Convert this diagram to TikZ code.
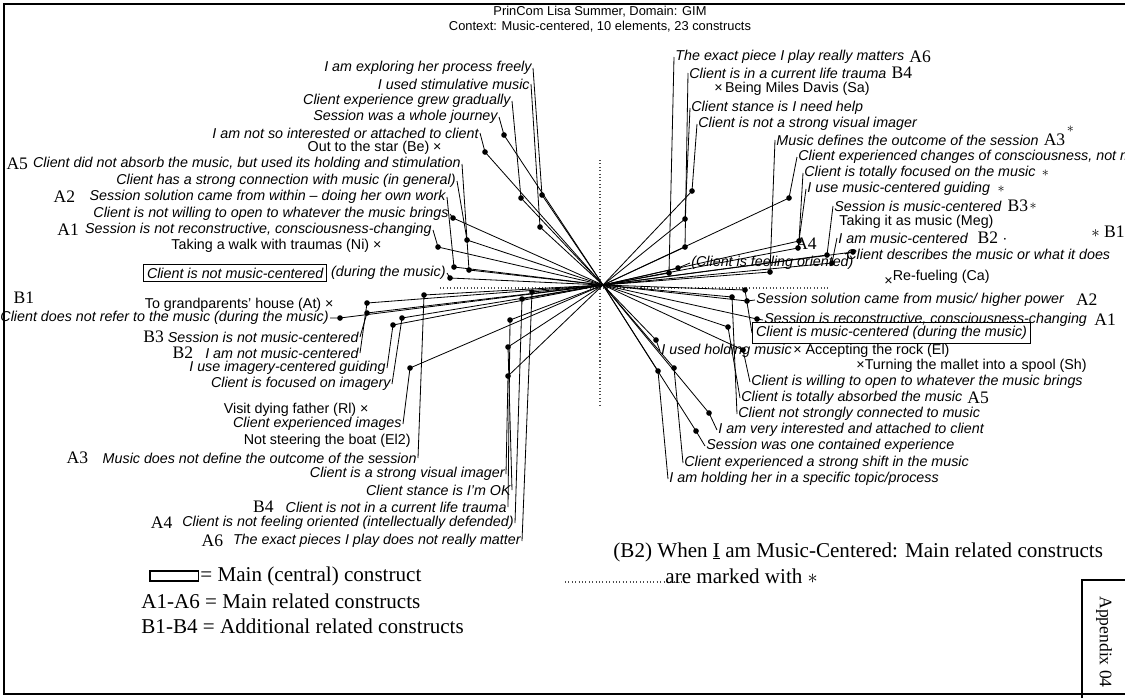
\documentclass[tikz,border=0pt]{standalone}
\usepackage{fontspec}
\setmainfont{Liberation Sans}
\newfontfamily\handfont{Liberation Serif}
\usetikzlibrary{positioning}

\tikzset{
  pole/.style={font=\itshape\fontsize{12.2}{13}\selectfont, inner sep=1pt},
  elem/.style={font=\fontsize{12.2}{13}\selectfont, inner sep=1pt},
  hand/.style={font=\handfont\fontsize{18}{20}\selectfont, inner sep=1pt},
  tag/.style={font=\handfont\fontsize{15}{16}\selectfont, inner sep=1pt},
  star/.style={font=\fontsize{12}{12}\selectfont, inner sep=0pt},
  spoke/.style={line width=0.7pt},
  axis/.style={dotted, line width=0.9pt, black!70},
  dot/.style={circle, fill, inner sep=0pt, minimum size=4.8pt},
  mainbox/.style={draw, line width=1pt, inner sep=3pt}
}

\begin{document}
\begin{tikzpicture}[x=0.03cm, y=-0.03cm]
\useasboundingbox (0,0) rectangle (1125,698);
% frame of the scanned page
\draw[line width=1.6pt] (1125,4) -- (4,4) -- (4,694) -- (1125,694);

\node[elem, font=\fontsize{11}{12}\selectfont] (title) at (600,12) {PrinCom Lisa Summer, Domain: GIM};
\node[elem, font=\fontsize{11}{12}\selectfont, below=1pt of title] (context) {Context: Music-centered, 10 elements, 23 constructs};

\coordinate (c) at (603,285);
\draw[axis] (440,288) -- (830,288);
\draw[axis] (600,160) -- (600,405);
\draw[axis] (565,582) -- (685,582);

% left poles
\foreach \n/\lx/\ly/\dx/\dy/\t in {
  L1/533/68/542/195/{I am exploring her process freely},
  L2/531/84/540/227/{I used stimulative music},
  L3/512/101/521/198/{Client experience grew gradually},
  L4/499/117/504/135/{Session was a whole journey},
  L5/480/133/485/152/{I am not so interested or attached to client},
  L6/462/164/469/270/{Client did not absorb the music, but used its holding and stimulation},
  L7/457/181/467/240/{Client has a strong connection with music (in general)},
  L8/447/197/454/267/{Session solution came from within -- doing her own work},
  L9/450/214/453/218/{Client is not willing to open to whatever the music brings},
  L10/433/230/438/247/{Session is not reconstructive, consciousness-changing},
  L12/330/318/340/318/{Client does not refer to the music (during the music)},
  L13/360/337/367/313/{Session is not music-centered},
  L14/360/353/367/303/{I am not music-centered},
  L15/387/368/393/325/{I use imagery-centered guiding},
  L16/392/384/402/318/{Client is focused on imagery},
  L17/403/424/410/368/{Client experienced images},
  L18/418/458/424/295/{Music does not define the outcome of the session},
  L19/506/474/508/376/{Client is a strong visual imager},
  L20/512/490/508/347/{Client stance is I'm OK},
  L21/508/507/510/320/{Client is not in a current life trauma},
  L22/515/523/522/299/{Client is not feeling oriented (intellectually defended)},
  L23/522/541/532/292/{The exact pieces I play does not really matter}}{
  \node[pole, anchor=east] (\n) at (\lx,\ly) {\t};
  \node[dot] (d\n) at (\dx,\dy) {};
  \draw[spoke] (\n.east) -- (d\n.center) -- (c);
}

% right poles
\foreach \n/\lx/\ly/\dx/\dy/\t in {
  R1/674/57/669/273/{The exact piece I play really matters},
  R2/688/73/685/247/{Client is in a current life trauma},
  R3/690/108/685/219/{Client stance is I need help},
  R4/697/124/692/191/{Client is not a strong visual imager},
  R5/775/140/770/272/{Music defines the outcome of the session},
  R6/797/157/789/198/{Client experienced changes of consciousness, not m},
  R7/803/173/799/241/{Client is totally focused on the music},
  R8/806/189/798/248/{I use music-centered guiding},
  R9/833/206/827/255/{Session is music-centered},
  R10/837/238/832/263/{I am music-centered},
  R11/845/254/853/252/{Client describes the music or what it does},
  R12/690/263/678/268/{(Client is feeling oriented)},
  R13/755/300/747/301/{Session solution came from music/ higher power},
  R14/763/320/757/319/{Session is reconstructive, consciousness-changing},
  R16/660/351/656/340/{I used holding music},
  R17/750/382/743/350/{Client is willing to open to whatever the music brings},
  R18/740/398/728/327/{Client is totally absorbed the music},
  R19/737/414/732/297/{Client not strongly connected to music},
  R20/717/430/709/413/{I am very interested and attached to client},
  R21/705/446/696/431/{Session was one contained experience},
  R22/683/463/674/368/{Client experienced a strong shift in the music},
  R23/668/479/658/371/{I am holding her in a specific topic/process}}{
  \node[pole, anchor=west] (\n) at (\lx,\ly) {\t};
  \node[dot] (d\n) at (\dx,\dy) {};
  \draw[spoke] (\n.west) -- (d\n.center) -- (c);
}

% main constructs (boxed)
\node[pole, anchor=east] (L11b) at (447,273) {(during the music)};
\node[pole, mainbox, left=2pt of L11b] (L11) {Client is not music-centered};
\node[dot] (dL11) at (450,278) {};
\draw[spoke] (L11b.east) -- (dL11.center) -- (c);
\node[pole, mainbox, anchor=west] (R15) at (752,333) {Client is music-centered (during the music)};
\node[dot] (dR15) at (745,290) {};
\draw[spoke] (R15.west) -- (dR15.center) -- (c);

% elements
\node[elem, anchor=east] (Be) at (443,148) {Out to the star (Be) ×};
\node[elem, anchor=east] (Ni) at (383,246) {Taking a walk with traumas (Ni) ×};
\node[elem, anchor=east] (At) at (335,305) {To grandparents' house (At) ×};
\node[elem, anchor=east] (Ri) at (370,410) {Visit dying father (Rl) ×};
\node[elem, anchor=east] (El2) at (412,441) {Not steering the boat (El2)};
\node[elem, anchor=west] (Sa) at (713,89) {×\,Being Miles Davis (Sa)};
\node[elem, anchor=west] (Meg) at (838,222) {Taking it as music (Meg)};
\node[elem, anchor=west] (Ca) at (883,278) {\raisebox{-4pt}{×}Re-fueling (Ca)};
\node[elem, right=-1pt of R16] (El) {× Accepting the rock (El)};
\node[elem, anchor=west] (Sh) at (855,366) {×Turning the mallet into a spool (Sh)};

% handwritten tags
\node[tag, left=2pt of L6] (tA5l) {A5};
\node[tag, left=10pt of L8] (tA2l) {A2};
\node[tag, left=3pt of L10] (tA1l) {A1};
\node[tag] (tB1l) at (24,298) {B1};
\node[tag, left=1pt of L13] (tB3l) {B3};
\node[tag, left=8pt of L14] (tB2l) {B2};
\node[tag, left=10pt of L18] (tA3l) {A3};
\node[tag, left=8pt of L21] (tB4l) {B4};
\node[tag, left=6pt of L22] (tA4l) {A4};
\node[tag, left=6pt of L23] (tA6l) {A6};
\node[tag, right=2pt of R1] (tA6r) {A6};
\node[tag, right=2pt of R2] (tB4r) {B4};
\node[tag, right=2pt of R5] (tA3r) {A3};
\node[star, anchor=south west] (sA3r) at (tA3r.north east) {$\ast$};
\node[star, right=4pt of R7] (sR7) {$\ast$};
\node[star, right=5pt of R8] (sR8) {$\ast$};
\node[tag, right=3pt of R9] (tB3r) {B3};
\node[star, right=0pt of tB3r] (sR9) {$\ast$};
\node[tag, right=6pt of R10] (tB2r) {B2 $\cdot$};
\node[tag] (tB1r) at (1108,232) {$\ast$ B1};
\node[tag] (tA4r) at (806,244) {A4};
\node[tag, right=8pt of R13] (tA2r) {A2};
\node[tag, right=4pt of R14] (tA1r) {A1};
\node[tag, right=2pt of R18] (tA5r) {A5};

% legend
\node[hand, anchor=west] (key1) at (199,576) {= Main (central) construct};
\node[draw, line width=1pt, minimum width=1.45cm, minimum height=0.3cm, left=0pt of key1] (keybox) {};
\node[hand, anchor=west] (key2) at (140,601) {A1-A6 = Main related constructs};
\node[hand, anchor=west] (key3) at (140,626) {B1-B4 = Additional related constructs};
\node[hand, anchor=west] (note1) at (612,552) {(B2) When \underline{I} am Music-Centered: Main related constructs};
\node[hand, anchor=west] (note2) at (664,576) {are marked with $\ast$};

% appendix stamp
\draw[line width=1pt] (1125,580) -- (1082,580) -- (1082,698);
\node[tag, rotate=-90] (app) at (1104,642) {Appendix 04};
\end{tikzpicture}
\end{document}
